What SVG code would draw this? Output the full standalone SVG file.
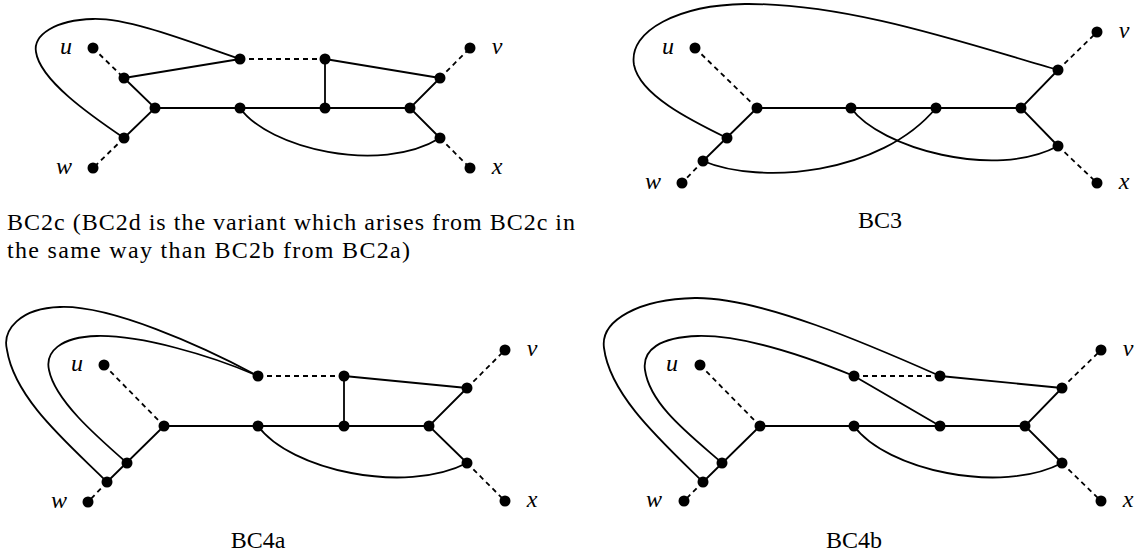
<svg xmlns="http://www.w3.org/2000/svg" width="1142" height="555" viewBox="0 0 1142 555">
<style>
.e{stroke:#000;stroke-width:1.8;fill:none;stroke-linecap:round}
.d{stroke:#000;stroke-width:1.8;fill:none;stroke-dasharray:5 4}
.n{fill:#000}
.lab{font-family:"Liberation Serif","DejaVu Serif",serif;font-style:italic;font-size:24px;text-anchor:middle;fill:#000}
.cap{font-family:"Liberation Serif","DejaVu Serif",serif;font-size:24px;fill:#000}
</style>
<rect width="1142" height="555" fill="#fff"/>
<g id="connectors">
<g id="p1-edges">
<path class="d" d="M93,48 L124,78"/>
<path class="d" d="M124,138 L93,168"/>
<path class="d" d="M240,59 L325,59"/>
<path class="d" d="M440,78 L470,48"/>
<path class="d" d="M440,138 L470,168"/>
<path class="e" d="M124,78 L155,108 L124,138"/>
<path class="e" d="M124,78 L240,59"/>
<path class="e" d="M325,59 L325,108"/>
<path class="e" d="M325,59 L440,78"/>
<path class="e" d="M155,108 L410,108"/>
<path class="e" d="M440,78 L410,108 L440,138"/>
<path class="e" d="M240,59 C190,42 130,18 93,19 C55,20 33,35 36,52 C40,80 90,115 124,138"/>
<path class="e" d="M240,108 C268,148 380,175 440,138"/>
</g>
<g id="p2-edges">
<path class="d" d="M695,48 L757,108"/>
<path class="d" d="M703,161 L682,183"/>
<path class="d" d="M1058,70 L1097,32"/>
<path class="d" d="M1058,146 L1097,183"/>
<path class="e" d="M757,108 L703,161"/>
<path class="e" d="M757,108 L1021,108"/>
<path class="e" d="M1058,70 L1021,108 L1058,146"/>
<path class="e" d="M727,138 C690,120 640,95 634,65 C628,30 680,5 745,4 C850,3 970,45 1058,70"/>
<path class="e" d="M851,108 C880,148 995,180 1058,146"/>
<path class="e" d="M703,161 C760,185 880,175 936,108"/>
</g>
<g id="p3-edges">
<path class="d" d="M104,365 L164,426"/>
<path class="d" d="M107,482 L88,502"/>
<path class="d" d="M258,376 L344,376"/>
<path class="d" d="M467,388 L505,350"/>
<path class="d" d="M467,463 L505,501"/>
<path class="e" d="M164,426 L107,482"/>
<path class="e" d="M164,426 L429,426"/>
<path class="e" d="M344,376 L344,426"/>
<path class="e" d="M344,376 L467,388"/>
<path class="e" d="M467,388 L429,426 L467,463"/>
<path class="e" d="M258,376 C200,345 110,305 60,307 C20,308 2,330 7,350 C15,400 70,445 107,482"/>
<path class="e" d="M258,376 C210,355 140,335 97,336 C60,337 45,352 49,370 C55,400 95,435 127,463"/>
<path class="e" d="M258,426 C290,470 405,495 467,463"/>
</g>
<g id="p4-edges">
<path class="d" d="M700,365 L760,426"/>
<path class="d" d="M703,482 L684,501"/>
<path class="d" d="M854,376 L940,376"/>
<path class="d" d="M1062,388 L1101,350"/>
<path class="d" d="M1062,463 L1101,501"/>
<path class="e" d="M760,426 L703,482"/>
<path class="e" d="M760,426 L1025,426"/>
<path class="e" d="M854,376 L940,426"/>
<path class="e" d="M940,376 L1062,388"/>
<path class="e" d="M1062,388 L1025,426 L1062,463"/>
<path class="e" d="M940,376 C870,345 760,297 695,298 C640,299 600,320 604,348 C610,395 660,440 703,482"/>
<path class="e" d="M854,376 C810,358 745,335 698,336 C660,337 642,350 645,370 C650,405 690,435 722,463"/>
<path class="e" d="M854,426 C886,470 1001,495 1062,463"/>
</g>
</g>

<g id="p1-u"><circle class="n" cx="93" cy="48" r="5.5"/><text class="lab" x="66" y="54">u</text></g>
<g id="p1-a"><circle class="n" cx="124" cy="78" r="5.5"/></g>
<g id="p1-b"><circle class="n" cx="155" cy="108" r="5.5"/></g>
<g id="p1-c"><circle class="n" cx="124" cy="138" r="5.5"/></g>
<g id="p1-w"><circle class="n" cx="93" cy="168" r="5.5"/><text class="lab" x="64" y="174">w</text></g>
<g id="p1-d"><circle class="n" cx="240" cy="59" r="5.5"/></g>
<g id="p1-e"><circle class="n" cx="325" cy="59" r="5.5"/></g>
<g id="p1-f"><circle class="n" cx="240" cy="108" r="5.5"/></g>
<g id="p1-g"><circle class="n" cx="325" cy="108" r="5.5"/></g>
<g id="p1-h"><circle class="n" cx="410" cy="108" r="5.5"/></g>
<g id="p1-i"><circle class="n" cx="440" cy="78" r="5.5"/></g>
<g id="p1-v"><circle class="n" cx="470" cy="48" r="5.5"/><text class="lab" x="497" y="54">v</text></g>
<g id="p1-j"><circle class="n" cx="440" cy="138" r="5.5"/></g>
<g id="p1-x"><circle class="n" cx="470" cy="168" r="5.5"/><text class="lab" x="497" y="174">x</text></g>
<g id="p1-caption"><text class="cap" x="7" y="230" textLength="568" lengthAdjust="spacing">BC2c (BC2d is the variant which arises from BC2c in</text><text class="cap" x="7" y="258" textLength="403" lengthAdjust="spacing">the same way than BC2b from BC2a)</text></g>

<g id="p2-u"><circle class="n" cx="695" cy="48" r="5.5"/><text class="lab" x="668" y="54">u</text></g>
<g id="p2-b"><circle class="n" cx="757" cy="108" r="5.5"/></g>
<g id="p2-c"><circle class="n" cx="727" cy="138" r="5.5"/></g>
<g id="p2-k"><circle class="n" cx="703" cy="161" r="5.5"/></g>
<g id="p2-w"><circle class="n" cx="682" cy="183" r="5.5"/><text class="lab" x="653" y="189">w</text></g>
<g id="p2-f"><circle class="n" cx="851" cy="108" r="5.5"/></g>
<g id="p2-g"><circle class="n" cx="936" cy="108" r="5.5"/></g>
<g id="p2-h"><circle class="n" cx="1021" cy="108" r="5.5"/></g>
<g id="p2-i"><circle class="n" cx="1058" cy="70" r="5.5"/></g>
<g id="p2-v"><circle class="n" cx="1097" cy="32" r="5.5"/><text class="lab" x="1124" y="38">v</text></g>
<g id="p2-j"><circle class="n" cx="1058" cy="146" r="5.5"/></g>
<g id="p2-x"><circle class="n" cx="1097" cy="183" r="5.5"/><text class="lab" x="1124" y="189">x</text></g>
<g id="p2-caption"><text class="cap" x="880" y="228" text-anchor="middle">BC3</text></g>

<g id="p3-u"><circle class="n" cx="104" cy="365" r="5.5"/><text class="lab" x="77" y="371">u</text></g>
<g id="p3-b"><circle class="n" cx="164" cy="426" r="5.5"/></g>
<g id="p3-c"><circle class="n" cx="127" cy="463" r="5.5"/></g>
<g id="p3-k"><circle class="n" cx="107" cy="482" r="5.5"/></g>
<g id="p3-w"><circle class="n" cx="88" cy="502" r="5.5"/><text class="lab" x="59" y="508">w</text></g>
<g id="p3-d"><circle class="n" cx="258" cy="376" r="5.5"/></g>
<g id="p3-e"><circle class="n" cx="344" cy="376" r="5.5"/></g>
<g id="p3-f"><circle class="n" cx="258" cy="426" r="5.5"/></g>
<g id="p3-g"><circle class="n" cx="344" cy="426" r="5.5"/></g>
<g id="p3-h"><circle class="n" cx="429" cy="426" r="5.5"/></g>
<g id="p3-i"><circle class="n" cx="467" cy="388" r="5.5"/></g>
<g id="p3-v"><circle class="n" cx="505" cy="350" r="5.5"/><text class="lab" x="532" y="356">v</text></g>
<g id="p3-j"><circle class="n" cx="467" cy="463" r="5.5"/></g>
<g id="p3-x"><circle class="n" cx="505" cy="501" r="5.5"/><text class="lab" x="532" y="507">x</text></g>
<g id="p3-caption"><text class="cap" x="258" y="548" text-anchor="middle">BC4a</text></g>

<g id="p4-u"><circle class="n" cx="700" cy="365" r="5.5"/><text class="lab" x="672" y="371">u</text></g>
<g id="p4-b"><circle class="n" cx="760" cy="426" r="5.5"/></g>
<g id="p4-c"><circle class="n" cx="722" cy="463" r="5.5"/></g>
<g id="p4-k"><circle class="n" cx="703" cy="482" r="5.5"/></g>
<g id="p4-w"><circle class="n" cx="684" cy="501" r="5.5"/><text class="lab" x="654" y="507">w</text></g>
<g id="p4-d"><circle class="n" cx="854" cy="376" r="5.5"/></g>
<g id="p4-e"><circle class="n" cx="940" cy="376" r="5.5"/></g>
<g id="p4-f"><circle class="n" cx="854" cy="426" r="5.5"/></g>
<g id="p4-g"><circle class="n" cx="940" cy="426" r="5.5"/></g>
<g id="p4-h"><circle class="n" cx="1025" cy="426" r="5.5"/></g>
<g id="p4-i"><circle class="n" cx="1062" cy="388" r="5.5"/></g>
<g id="p4-v"><circle class="n" cx="1101" cy="350" r="5.5"/><text class="lab" x="1128" y="356">v</text></g>
<g id="p4-j"><circle class="n" cx="1062" cy="463" r="5.5"/></g>
<g id="p4-x"><circle class="n" cx="1101" cy="501" r="5.5"/><text class="lab" x="1128" y="507">x</text></g>
<g id="p4-caption"><text class="cap" x="854" y="548" text-anchor="middle">BC4b</text></g>
</svg>
